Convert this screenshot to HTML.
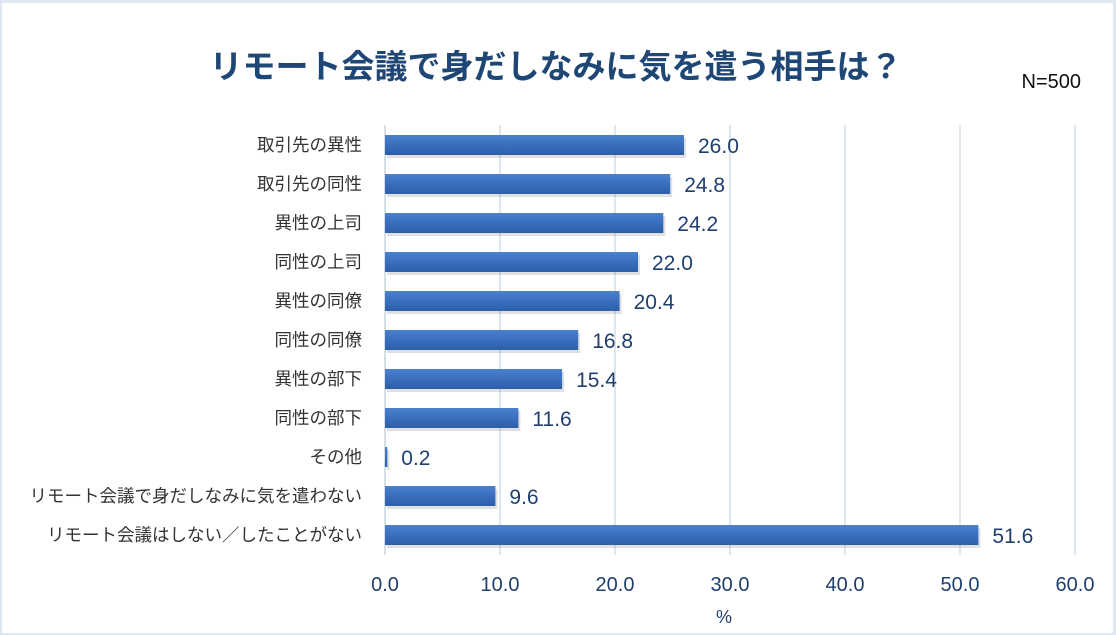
<!DOCTYPE html>
<html><head><meta charset="utf-8"><style>
body{margin:0;width:1116px;height:635px;background:#dfe7f1;overflow:hidden;}
svg{display:block;}
text{font-family:"Liberation Sans","Noto Sans CJK JP",sans-serif;}
</style></head><body>
<svg width="1116" height="635" xmlns="http://www.w3.org/2000/svg" id="chart">
<defs>
<linearGradient id="bg" x1="0" y1="0" x2="0" y2="1">
<stop offset="0" stop-color="#4a80cc"/><stop offset="0.5" stop-color="#3a6fbe"/><stop offset="1" stop-color="#2d5ea8"/>
</linearGradient>
</defs>
<rect x="2" y="3" width="1111" height="630" fill="#fff"/>
<text x="556" y="78" text-anchor="middle" font-size="33" font-weight="bold" fill="#1f4776">リモート会議で身だしなみに気を遣う相手は？</text>
<text x="1081" y="88" text-anchor="end" font-size="20" fill="#111">N=500</text>
<g id="grid"></g><g id="bars"></g><g id="labels"></g>
<text x="724" y="623" text-anchor="middle" font-size="18" fill="#1f3f6e">%</text>
</svg>
<script>
const categories=["取引先の異性","取引先の同性","異性の上司","同性の上司","異性の同僚","同性の同僚","異性の部下","同性の部下","その他","リモート会議で身だしなみに気を遣わない","リモート会議はしない／したことがない"];
const values=[26.0,24.8,24.2,22.0,20.4,16.8,15.4,11.6,0.2,9.6,51.6];
const ticks=[0,10,20,30,40,50,60];
const NS="http://www.w3.org/2000/svg";
const x0=385,x1=1075,plotTop=125,plotBottom=555,step=39,firstY=145,barH=20;
const xs=v=>x0+(v-ticks[0])/(ticks[ticks.length-1]-ticks[0])*(x1-x0);
const ys=i=>firstY+i*step;
function mk(t,a,p){const e=document.createElementNS(NS,t);for(const k in a)e.setAttribute(k,a[k]);p.appendChild(e);return e;}
const g=document.getElementById('grid'),b=document.getElementById('bars'),l=document.getElementById('labels');
ticks.forEach(t=>{
const ln=mk('line',{x1:xs(t),x2:xs(t),y1:plotTop,y2:plotBottom,stroke:t===0?'#c8d3df':'#d4dde8','stroke-width':1.5},g);


const tx=mk('text',{x:xs(t),y:591,'text-anchor':'middle','font-size':20,fill:'#1f3f6e'},g);
tx.textContent=t.toFixed(1);


});
categories.forEach((c,i)=>{
const y=ys(i);
const sh=mk('rect',{x:x0+2,y:y-barH/2+3,width:Math.max(xs(values[i])-x0,1),height:barH,fill:'#000',opacity:0.12},b);


const r=mk('rect',{x:x0,y:y-barH/2,width:Math.max(xs(values[i])-x0,1.5),height:barH,fill:'url(#bg)'},b);


const cl=mk('text',{x:362,y:y+6,'text-anchor':'end','font-size':17.5,fill:'#333'},l);
cl.textContent=c;


const vl=mk('text',{x:xs(values[i])+14,y:y+8,'font-size':21,fill:'#1f3f6e'},l);
vl.textContent=values[i].toFixed(1);


});
</script>
</body></html>
